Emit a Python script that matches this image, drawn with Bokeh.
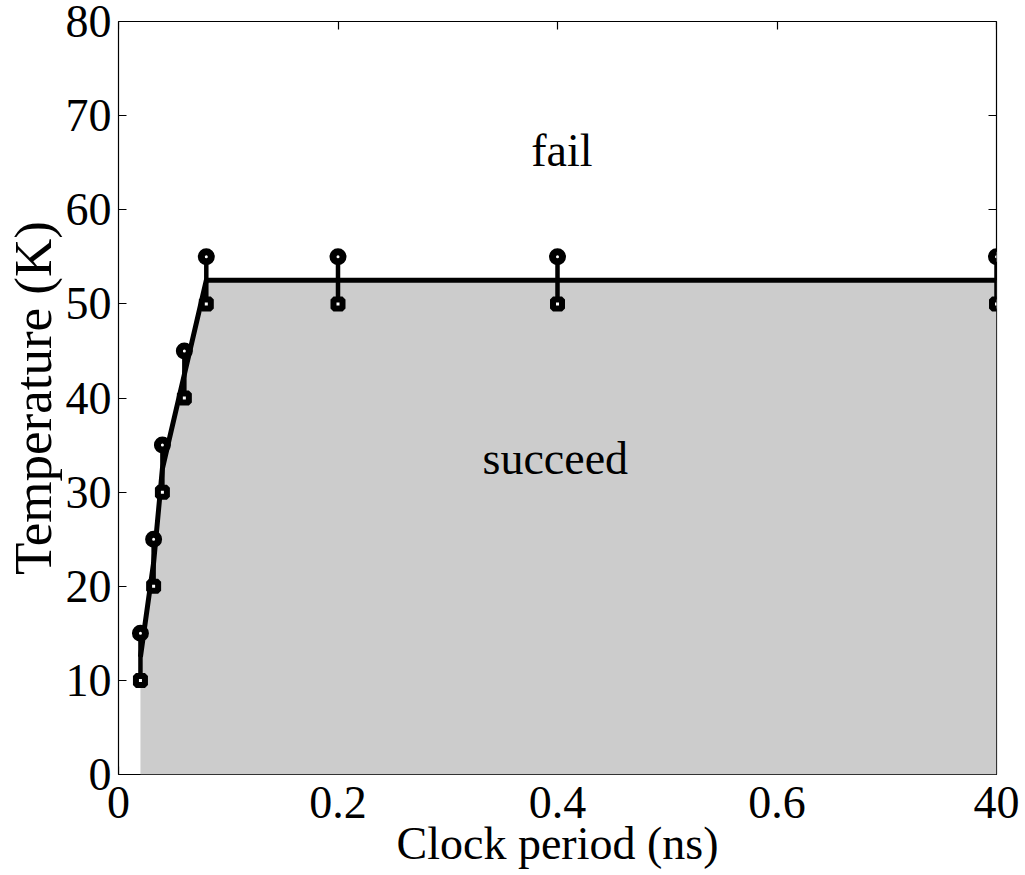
from bokeh.plotting import figure
from bokeh.models import LinearAxis, Range1d, FixedTicker, Label
from bokeh.embed import file_html
from bokeh.resources import INLINE

# Clock period positions on the broken x axis (the last column is the 40 ns run)
clock_period = [0.02, 0.032, 0.04, 0.06, 0.08, 0.2, 0.4, 0.8]
# Highest temperature that still worked and lowest one that failed (K)
temp_succeed = [10, 20, 30, 40, 50, 50, 50, 50]
temp_fail = [15, 25, 35, 45, 55, 55, 55, 55]

x_ticks = [0, 0.2, 0.4, 0.6, 0.8]
x_tick_labels = ["0", "0.2", "0.4", "0.6", "40"]
y_ticks = [0, 10, 20, 30, 40, 50, 60, 70, 80]

# operating boundary sits halfway between the passing and failing temperature
boundary = [(s + f) / 2 for s, f in zip(temp_succeed, temp_fail)]

FONT = "Liberation Serif"

p = figure(
    width=1025, height=875,
    x_range=Range1d(0, 0.8), y_range=Range1d(0, 80),
    x_axis_type=None, y_axis_type=None,
    output_backend="svg", toolbar_location=None,
    min_border_left=117, min_border_right=29,
    min_border_top=21, min_border_bottom=101,
    background_fill_color="white", border_fill_color="white",
    outline_line_color="black", outline_line_width=1.2,
)
p.grid.visible = False


def tick_axis(ticks):
    """Inward tick marks only, drawn beneath the shaded region."""
    ax = LinearAxis(ticker=FixedTicker(ticks=ticks))
    ax.level = "underlay"
    ax.axis_line_color = None
    ax.major_tick_in = 8
    ax.major_tick_out = 0
    ax.major_tick_line_color = "black"
    ax.major_tick_line_width = 1.2
    ax.minor_tick_line_color = None
    ax.major_label_overrides = {t: "" for t in ticks}
    ax.major_label_text_font_size = "1px"
    ax.major_label_standoff = 0
    return ax


def label_axis(ticks, label):
    """Tick labels and axis title, with no marks of its own."""
    ax = LinearAxis(ticker=FixedTicker(ticks=ticks), axis_label=label)
    ax.axis_line_color = None
    ax.major_tick_line_color = None
    ax.minor_tick_line_color = None
    ax.major_tick_in = 0
    ax.major_tick_out = 0
    ax.major_label_text_font = FONT
    ax.major_label_text_font_size = "46px"
    ax.major_label_text_color = "black"
    ax.axis_label_text_font = FONT
    ax.axis_label_text_font_style = "normal"
    ax.axis_label_text_color = "black"
    ax.axis_label_text_font_size = "46px"
    return ax


for side, ticks in (("below", x_ticks), ("left", y_ticks),
                    ("above", x_ticks), ("right", y_ticks)):
    p.add_layout(tick_axis(ticks), side)

xb = label_axis(x_ticks, "Clock period (ns)")
xb.major_label_overrides = {t: lab for t, lab in zip(x_ticks, x_tick_labels)}
xb.major_label_standoff = 12
xb.axis_label_standoff = -3
p.add_layout(xb, "below")

yl = label_axis(y_ticks, "Temperature (K)")
yl.axis_label_text_font_size = "53px"
yl.major_label_standoff = 7
yl.axis_label_standoff = 1
p.add_layout(yl, "left")

# region where the circuit works
p.varea(x=clock_period, y1=0, y2=boundary, fill_color="#cccccc")

# boundary curve and the pass/fail brackets
p.line(clock_period, boundary, line_width=5, line_color="black",
       line_join="round")
p.segment(x0=clock_period, y0=temp_succeed, x1=clock_period, y1=temp_fail,
          line_width=4.5, line_color="black")
p.scatter(clock_period, temp_succeed, marker="square", size=9, line_width=6,
          line_color="black", fill_color="white")
p.scatter(clock_period, temp_fail, marker="circle", size=10, line_width=7,
          line_color="black", fill_color="white")

p.add_layout(Label(x=0.404, y=66.3, text="fail", text_align="center",
                   text_baseline="alphabetic", text_font=FONT,
                   text_font_size="46px", text_color="black"))
p.add_layout(Label(x=0.398, y=33.6, text="succeed", text_align="center",
                   text_baseline="alphabetic", text_font=FONT,
                   text_font_size="46px", text_color="black"))

open("out.html", "w").write(file_html(p, INLINE))
